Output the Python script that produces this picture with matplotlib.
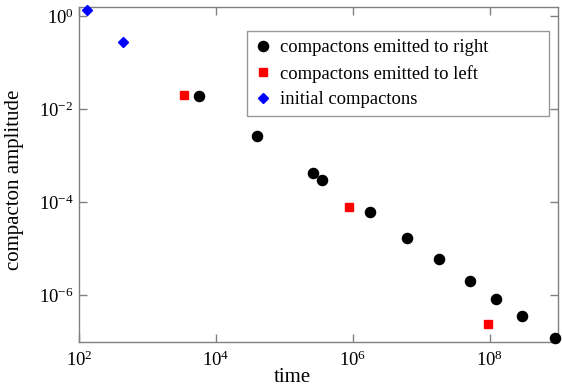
import matplotlib
matplotlib.use("Agg")
import matplotlib.pyplot as plt
from matplotlib.ticker import LogLocator, LogFormatterSciNotation, NullLocator

plt.rcParams['font.family'] = ['Liberation Serif', 'DejaVu Serif']
plt.rcParams['mathtext.fontset'] = 'stix'

# data (time, amplitude)
right_t = [5.75e3, 4.0e4, 2.6e5, 3.6e5, 1.76e6, 6.2e6, 1.82e7, 5.25e7, 1.26e8, 3.0e8, 8.9e8]
right_a = [1.86e-2, 2.66e-3, 4.2e-4, 2.98e-4, 6.1e-5, 1.74e-5, 6.0e-6, 2.04e-6, 8.5e-7, 3.6e-7, 1.2e-7]
left_t = [3.4e3, 8.7e5, 9.5e7]
left_a = [2.02e-2, 7.8e-5, 2.45e-7]
init_t = [1.29e2, 4.4e2]
init_a = [1.32e0, 2.68e-1]

labels = ["compactons emitted to right", "compactons emitted to left", "initial compactons"]

fig = plt.figure(figsize=(5.62, 3.84), dpi=100)
ax = fig.add_axes([79/562, 1-342/384, (558-79)/562, (342-7)/384])
ax.set_xscale('log')
ax.set_yscale('log')
ax.set_xlim(1e2, 1e9)
ax.set_ylim(1e-7, 10**0.19)

ax.plot(right_t, right_a, 'o', color='black', ms=7.3, ls='none', label=labels[0], clip_on=False, zorder=3)
ax.plot(left_t, left_a, 's', color='red', ms=5.4, ls='none', label=labels[1], clip_on=False, zorder=3)
ax.plot(init_t, init_a, 'D', color='blue', ms=5.0, ls='none', label=labels[2], clip_on=False, zorder=3)

ax.xaxis.set_major_locator(LogLocator(base=100.0))
ax.yaxis.set_major_locator(LogLocator(base=100.0))
ax.xaxis.set_minor_locator(NullLocator())
ax.yaxis.set_minor_locator(NullLocator())
ax.xaxis.set_major_formatter(LogFormatterSciNotation(base=10))
ax.yaxis.set_major_formatter(LogFormatterSciNotation(base=10))

gray = '#808080'
for s in ax.spines.values():
    s.set_color(gray)
    s.set_linewidth(1.0)
ax.tick_params(which='both', direction='in', top=True, right=True, length=6,
               color=gray, labelsize=13.5, width=1.0)
ax.tick_params(axis='x', pad=6)
ax.tick_params(axis='y', pad=4)

ax.set_xlabel('time', fontsize=15)
ax.set_ylabel('compacton amplitude', fontsize=15)
ax.xaxis.set_label_coords(0.446, -0.077)
ax.yaxis.set_label_coords(-0.115, 0.485)

leg = ax.legend(loc='upper left', mode='expand',
                bbox_to_anchor=(247/562, 1-113/384, (549-247)/562, (113-31)/384),
                bbox_transform=fig.transFigure,
                fontsize=13.4, frameon=True, fancybox=False, handletextpad=0.5,
                borderpad=0.45, borderaxespad=0, labelspacing=0.45, handlelength=0.85)
leg.get_frame().set_edgecolor(gray)
leg.get_frame().set_linewidth(1.0)

fig.savefig('out.png', dpi=100)
